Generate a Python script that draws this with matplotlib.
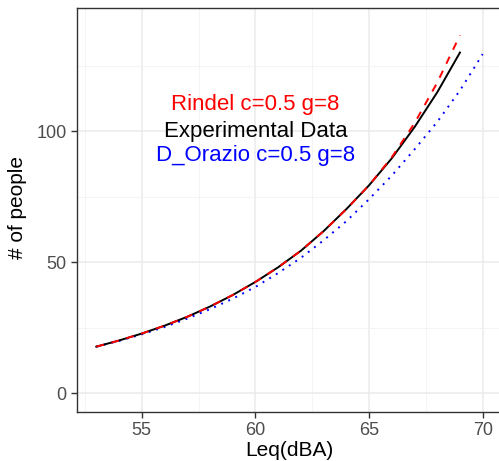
import numpy as np
import matplotlib
matplotlib.use("Agg")
import matplotlib.pyplot as plt
from matplotlib.ticker import MultipleLocator

plt.rcParams['font.family'] = ['Liberation Sans', 'DejaVu Sans']

# Leq (dBA) values and number of people for each curve
leq_exp = [53, 54, 55, 56, 57, 58, 59, 60, 61, 62, 63, 64, 65, 66, 67, 68, 69]
people_exp = [17.7, 20.05, 22.7, 25.7, 29.1, 33.0, 37.4, 42.4, 48.0, 54.3,
              61.8, 70.2, 79.3, 89.6, 101.5, 114.8, 130.0]

leq_rindel = [53, 54, 55, 56, 57, 58, 59, 60, 61, 62, 63, 64, 65, 66, 67, 68, 69]
people_rindel = [17.7, 20.05, 22.7, 25.7, 29.1, 33.0, 37.4, 42.4, 48.0, 54.3,
                 61.8, 70.2, 79.3, 90.0, 103.0, 118.5, 136.6]

leq_dorazio = [53, 54, 55, 56, 57, 58, 59, 60, 61, 62, 63, 64, 65, 66, 67, 68, 69, 70]
people_dorazio = [17.7, 19.9, 22.4, 25.2, 28.4, 32.0, 36.0, 40.5, 45.8, 51.6,
                  58.3, 65.6, 74.0, 83.0, 93.0, 103.5, 115.5, 129.4]

labels = ["Rindel c=0.5 g=8", "Experimental Data", "D_Orazio c=0.5 g=8"]
label_colors = ["red", "black", "blue"]
label_y = [110, 100, 90.5]

fig = plt.figure(figsize=(4.99, 4.61), dpi=100)
ax = fig.add_axes([77/499, 1-412/461, 425/499, 404/461])

ax.plot(leq_exp, people_exp, color="black", lw=1.4, zorder=3)
ax.plot(leq_rindel, people_rindel, color="red", lw=1.4, ls=(0, (4, 4)), zorder=4)
ax.plot(leq_dorazio, people_dorazio, color="blue", lw=1.4, ls=(0, (1, 3)), zorder=2)

for t, c, y in zip(labels, label_colors, label_y):
    ax.text(60, y, t, color=c, fontsize=16, ha="center", va="center")

ax.set_xlim(52.15, 70.85)
ax.set_ylim(-7.25, 147)
ax.xaxis.set_major_locator(MultipleLocator(5))
ax.xaxis.set_minor_locator(MultipleLocator(2.5))
ax.yaxis.set_major_locator(MultipleLocator(50))
ax.yaxis.set_minor_locator(MultipleLocator(25))
ax.grid(which="major", color="#EBEBEB", lw=1.1)
ax.grid(which="minor", color="#F2F2F2", lw=0.6)
ax.set_axisbelow(True)
ax.tick_params(which="minor", length=0)
ax.tick_params(which="major", length=4, width=1, color="#333333",
               labelcolor="#4D4D4D", labelsize=13)
for s in ax.spines.values():
    s.set_color("#333333")
    s.set_linewidth(1)

ax.set_xlabel("Leq(dBA)", fontsize=15, labelpad=1)
ax.set_ylabel("# of people", fontsize=15, labelpad=4)
ax.yaxis.set_label_coords(-0.118, 0.505)

fig.savefig("out.png", dpi=100)
